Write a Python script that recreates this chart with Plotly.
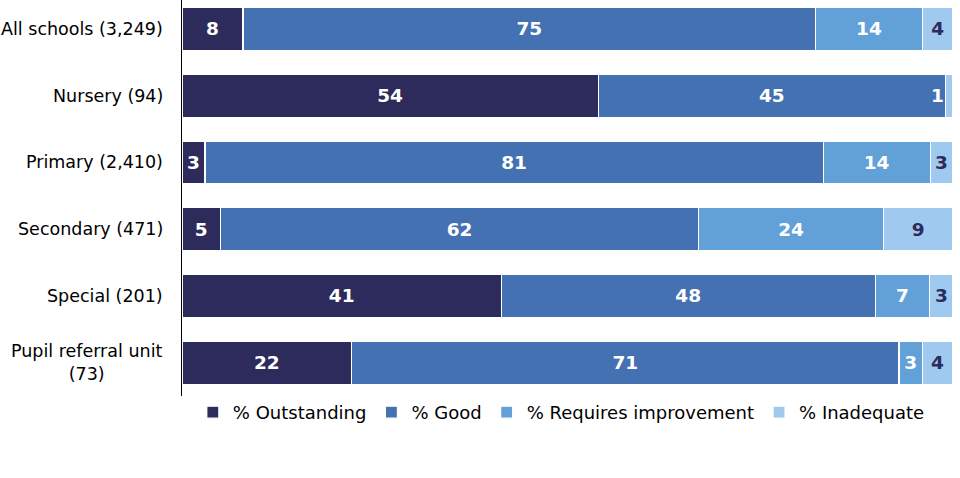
import plotly.graph_objects as go

categories = ["All schools (3,249)", "Nursery (94)", "Primary (2,410)",
              "Secondary (471)", "Special (201)", "Pupil referral unit<br>(73)"]
outstanding = [8, 54, 3, 5, 41, 22]
good = [75, 45, 81, 62, 48, 71]
requires_improvement = [14, 0, 14, 24, 7, 3]
inadequate = [4, 1, 3, 9, 3, 4]

series = [
    ("% Outstanding", outstanding, "#2d2b5c", "white"),
    ("% Good", good, "#4471b2", "white"),
    ("% Requires improvement", requires_improvement, "#62a0d8", "white"),
    ("% Inadequate", inadequate, "#9fc9ef", "#2d2b5c"),
]

FONT = "DejaVu Sans"
fig = go.Figure()
for name, vals, color, tcolor in series:
    texts = []
    for i, v in enumerate(vals):
        # tiny segments get their label placed just left of the segment instead
        texts.append(str(v) if v > 1 else "")
    fig.add_trace(go.Bar(
        name=name, y=categories, x=vals, orientation="h",
        marker=dict(color=color, line=dict(color="white", width=1.2)),
        text=texts, textposition="inside", insidetextanchor="middle",
        textangle=0, constraintext="none",
        textfont=dict(family=FONT, size=18.5, color=tcolor, weight="bold"),
        hoverinfo="skip",
    ))

# labels for tiny (1%) segments
for i, c in enumerate(categories):
    total = outstanding[i] + good[i] + requires_improvement[i] + inadequate[i]
    if 0 < inadequate[i] <= 1:
        start = (total - inadequate[i]) / total * 100
        fig.add_annotation(
            x=start, xref="x", y=c, yref="y", xanchor="right", yanchor="middle",
            xshift=1, text=str(inadequate[i]), showarrow=False,
            font=dict(family=FONT, size=18.5, color="white", weight="bold"),
        )

for c in categories:
    fig.add_annotation(
        x=0, xref="paper", y=c, yref="y", xanchor="right", yanchor="middle",
        xshift=-17, text=c, showarrow=False, align="center",
        font=dict(family=FONT, size=17.5, color="black"),
    )

fig.update_layout(
    width=960, height=478,
    barmode="stack", barnorm="percent", bargap=0.355,
    margin=dict(l=182, r=7, t=0, b=82),
    plot_bgcolor="white", paper_bgcolor="white",
    showlegend=True,
    legend=dict(orientation="h", x=0.492, xanchor="center", y=0.005, yanchor="top",
                font=dict(family=FONT, size=18, color="black"),
                traceorder="normal", itemwidth=30),
    xaxis=dict(range=[0, 100], showgrid=False, showticklabels=False,
               zeroline=False, showline=False, fixedrange=True),
    yaxis=dict(range=[5.5, -0.434], showticklabels=False, showgrid=False,
               showline=True, linecolor="black", linewidth=1.2, ticks="",
               zeroline=False),
)

fig.write_html("out.html")
